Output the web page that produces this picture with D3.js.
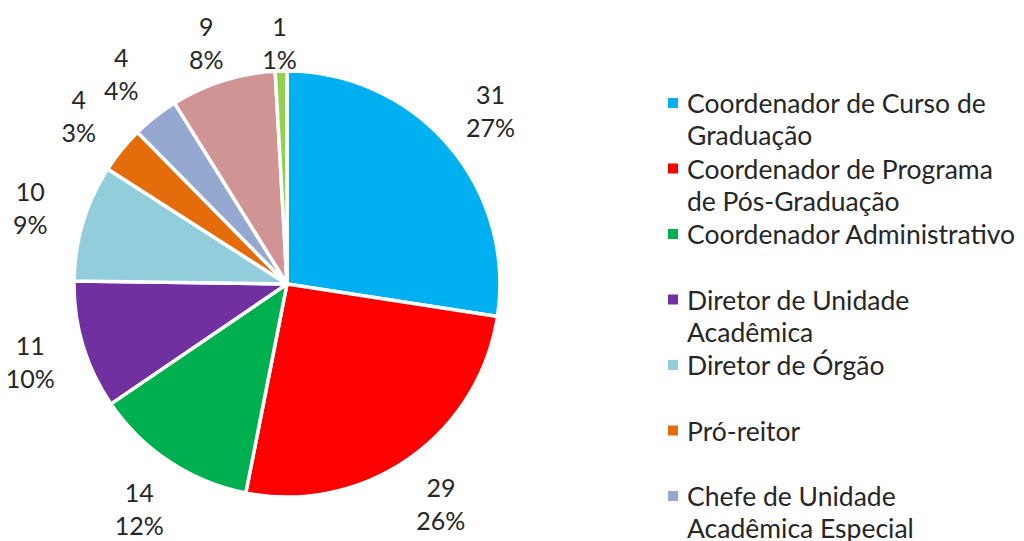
<!DOCTYPE html>
<html>
<head>
<meta charset="utf-8">
<script src="https://cdn.jsdelivr.net/npm/d3@7"></script>
<style>
  body { margin: 0; background: #fff; }
  text { font-family: Lato, "Open Sans", sans-serif; fill: #262626; }
</style>
</head>
<body>
<div id="chart"></div>
<script>
// data
const categories = [
    "Coordenador de Curso de\nGraduação",
    "Coordenador de Programa\nde Pós-Graduação",
    "Coordenador Administrativo",
    "Diretor de Unidade\nAcadêmica",
    "Diretor de Órgão",
    "Pró-reitor",
    "Chefe de Unidade\nAcadêmica Especial",
    "Chefe de Departamento",
    "Reitor"
];
const values = [31, 29, 14, 11, 10, 4, 4, 9, 1];
const percentLabels = ["27%", "26%", "12%", "10%", "9%", "3%", "4%", "8%", "1%"];
const colors = ["#00B0F0", "#FF0000", "#00B050", "#7030A0", "#92CDDC",
                "#E46C0A", "#95A9D0", "#D09494", "#92D050"];

var width = 1024, height = 541;
var pie_c = {x: 287, y: 284, r: 213};
var legend = {x: 668, y: 103, step: 65.5, line: 32, box: 10};

var svg = d3.select("#chart")
    .append("svg")
    .attr("width", width)
    .attr("height", height);

var pie = d3.pie().sort(null).value(d => d);
var arcs = pie(values);

var arc = d3.arc().innerRadius(0).outerRadius(pie_c.r);
var labelArc = d3.arc().innerRadius(268).outerRadius(268);

var g = svg.append("g")
    .attr("transform", `translate(${pie_c.x}, ${pie_c.y})`);

g.selectAll("path")
    .data(arcs)
    .enter()
    .append("path")
    .attr("d", arc)
    .attr("fill", (d, i) => colors[i])
    .attr("stroke", "#fff")
    .attr("stroke-width", 3.5)
    .attr("stroke-linejoin", "round");

// value / percent labels outside the slices, kept inside the plot area
const labelTop = 42 - pie_c.y;
var labels = g.selectAll("g.lbl")
    .data(arcs)
    .enter()
    .append("g")
    .attr("class", "lbl")
    .attr("transform", d => {
        let [x, y] = labelArc.centroid(d);
        return `translate(${x}, ${Math.max(y, labelTop)})`;
    });

labels.append("text")
    .attr("text-anchor", "middle")
    .attr("dominant-baseline", "central")
    .attr("y", -16)
    .style("font-size", "25px")
    .text(d => d.value);

labels.append("text")
    .attr("text-anchor", "middle")
    .attr("dominant-baseline", "central")
    .attr("y", 17)
    .style("font-size", "25px")
    .text((d, i) => percentLabels[i]);

// legend (entries past the bottom edge are not shown, as in the original)
var ly = d3.scaleLinear()
    .domain([0, 1])
    .range([legend.y, legend.y + legend.step]);

var shown = categories.filter((d, i) => ly(i) < height);

var items = svg.selectAll("g.legend")
    .data(shown)
    .enter()
    .append("g")
    .attr("class", "legend")
    .attr("transform", (d, i) => `translate(${legend.x}, ${ly(i)})`);

items.append("rect")
    .attr("x", 0)
    .attr("y", -legend.box / 2)
    .attr("width", legend.box)
    .attr("height", legend.box)
    .attr("fill", (d, i) => colors[i]);

items.append("text")
    .style("font-size", "26.5px")
    .selectAll("tspan")
    .data(d => d.split("\n"))
    .enter()
    .append("tspan")
    .attr("x", 19)
    .attr("y", (d, i) => i * legend.line)
    .attr("dominant-baseline", "central")
    .text(d => d);
</script>
</body>
</html>
